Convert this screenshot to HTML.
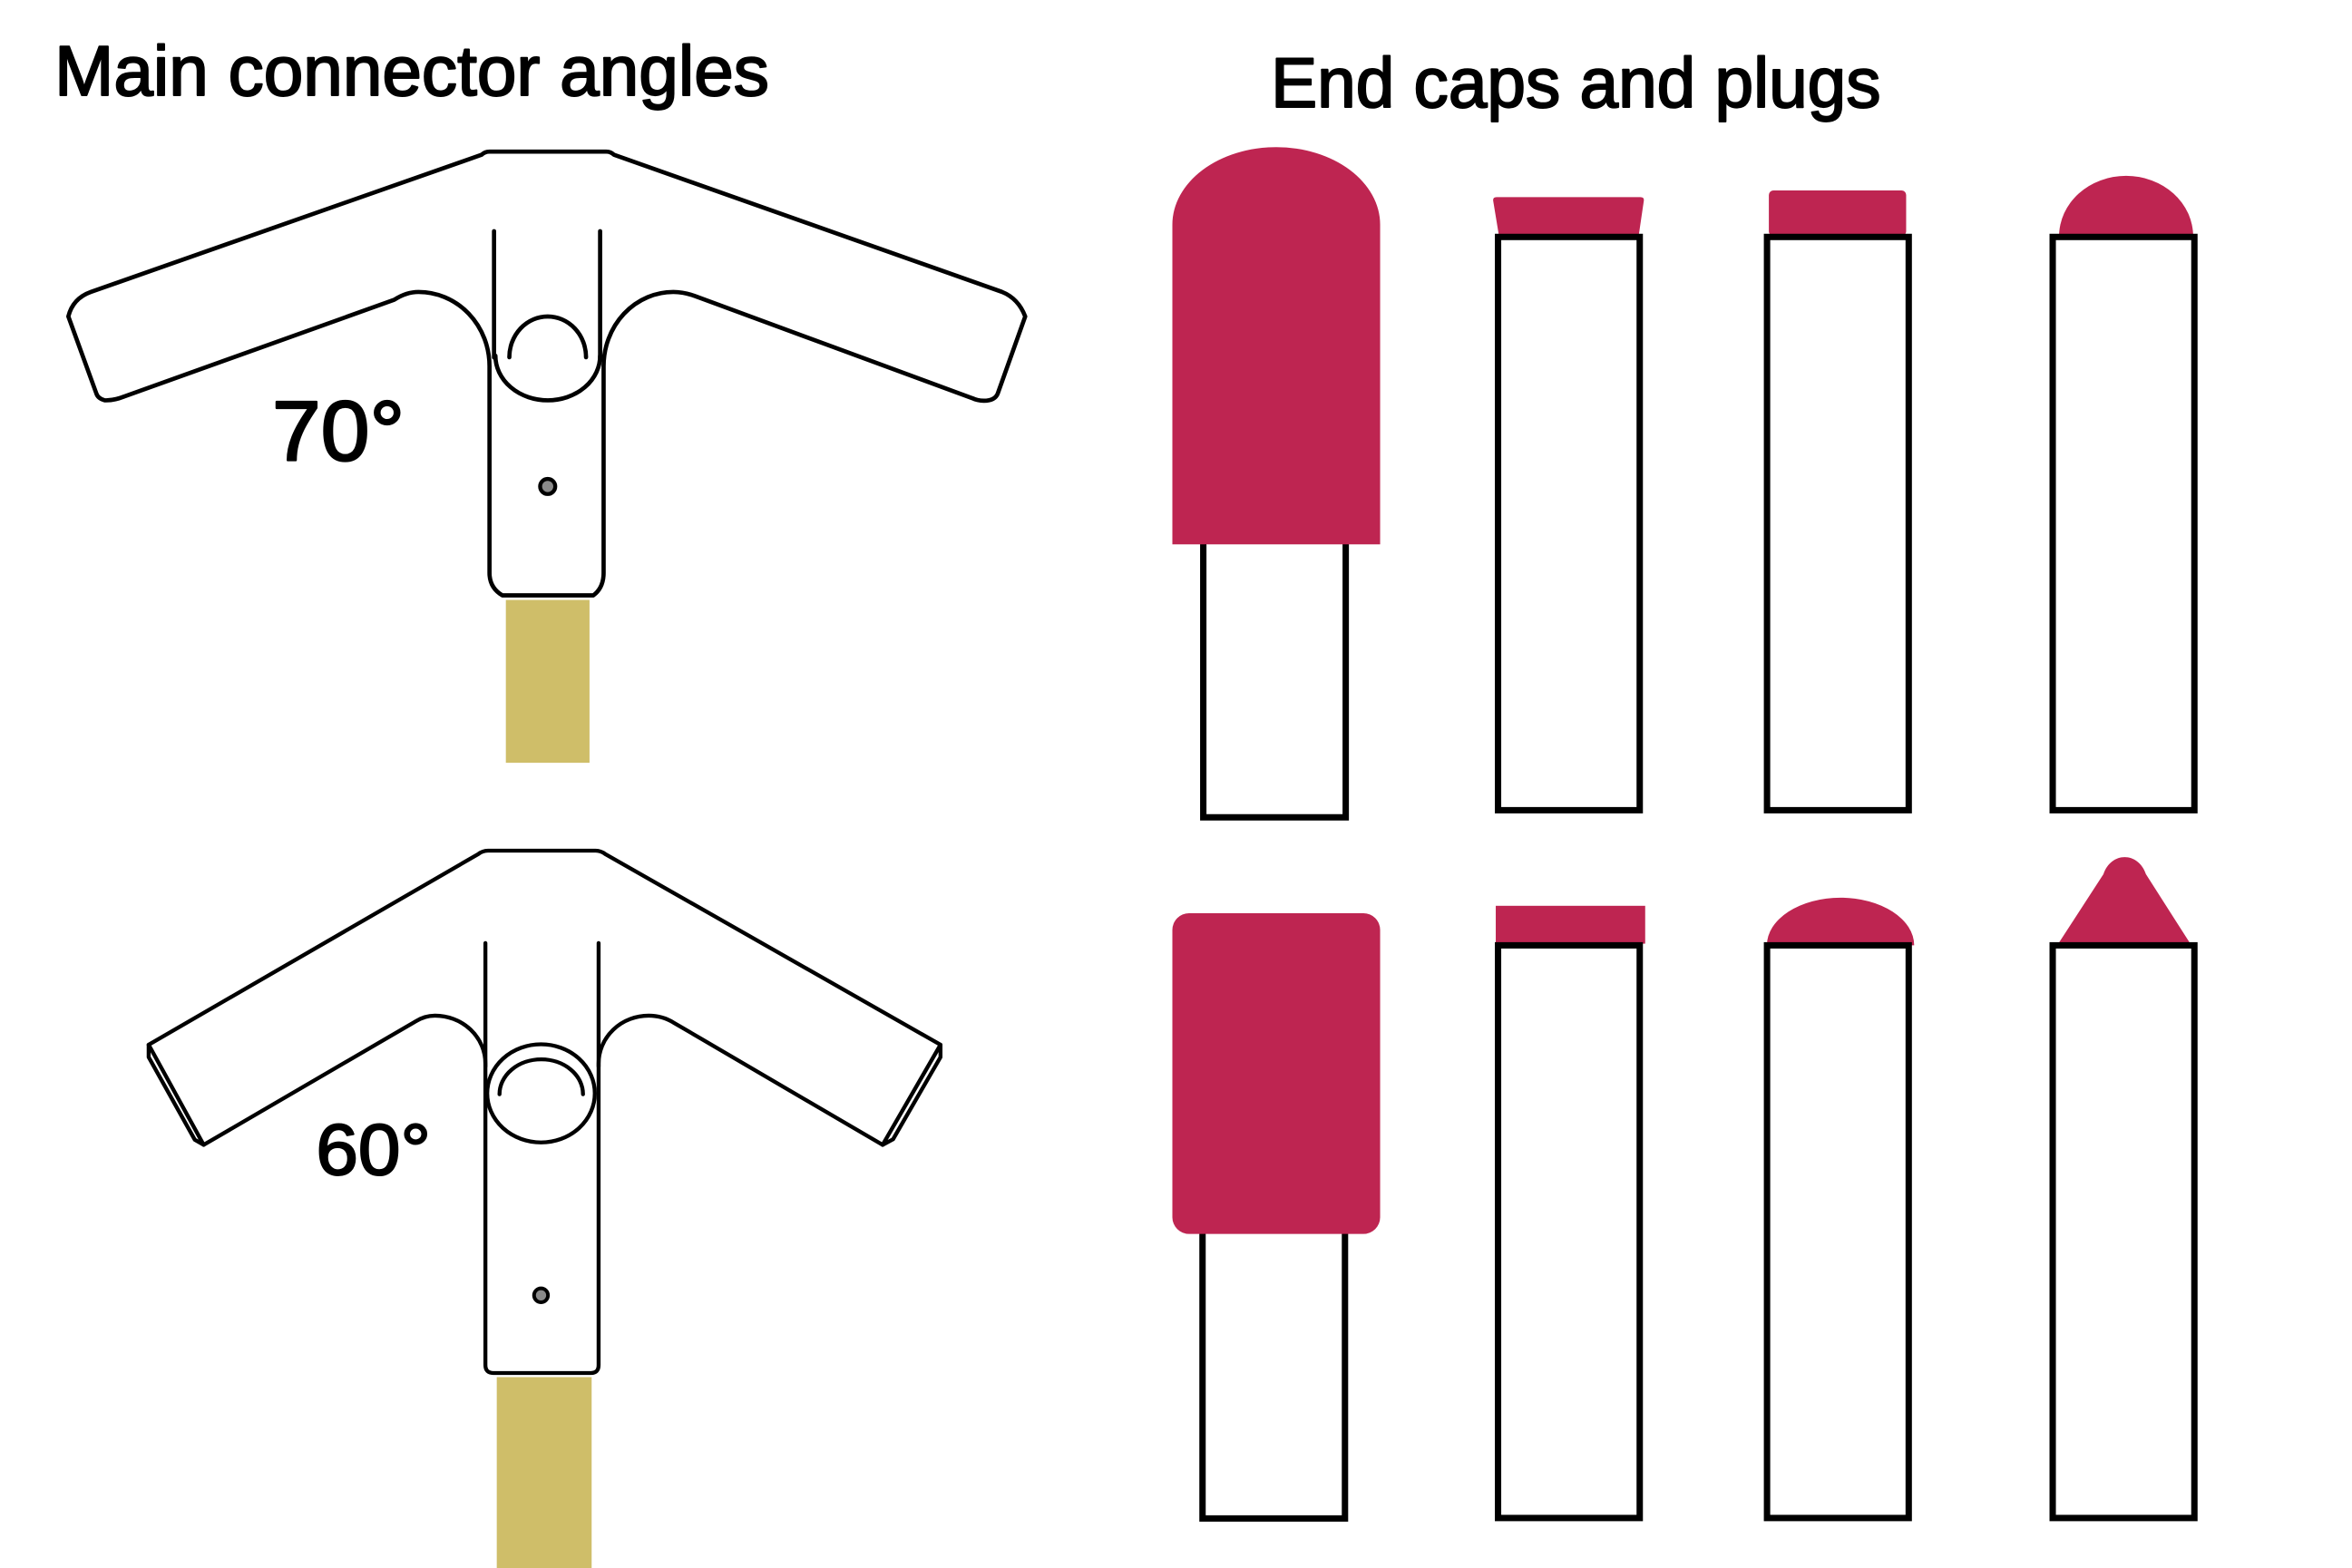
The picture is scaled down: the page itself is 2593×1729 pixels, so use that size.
<!DOCTYPE html>
<html>
<head>
<meta charset="utf-8">
<style>
  html, body { margin: 0; padding: 0; background: #ffffff; }
  body { width: 2593px; height: 1729px; overflow: hidden; }
  svg { display: block; }
  text { font-family: "Liberation Sans", "DejaVu Sans", sans-serif; font-weight: normal; fill: #000; stroke: #000; stroke-linejoin: round; }
</style>
</head>
<body>
<svg width="2593" height="1729" viewBox="0 0 1552 1035" preserveAspectRatio="none" xmlns="http://www.w3.org/2000/svg">
  <rect x="0" y="0" width="1552" height="1035" fill="#ffffff"/>

  <!-- Titles -->
  <text x="36" y="62.8" font-size="46.5" stroke-width="1.2" textLength="471.5" lengthAdjust="spacingAndGlyphs">Main connector angles</text>
  <text x="838.6" y="70.6" font-size="46.5" stroke-width="1.2" textLength="402.5" lengthAdjust="spacingAndGlyphs">End caps and plugs</text>

  <!-- ============ 70 degree connector ============ -->
  <rect x="333.8" y="396" width="55.2" height="107.5" fill="#CFBE69"/>
  <g fill="#ffffff" stroke="#000" stroke-width="2.8" stroke-linejoin="round" stroke-linecap="round">
    <path d="M317.7,102.2 Q320,100.1 323,100.1 L400,100.1 Q403,100.1 405.2,102.2
             L661,192.6 Q672,197 676.5,208.9
             L658.4,259.7 Q656.5,264.5 649.2,264.5 Q645,264.5 641.5,262.8
             L460.4,196.1 Q452,192.7 444.3,192.7
             A46 49 0 0 0 398.3,241.7
             L398.3,378.1 Q398.3,388 391.5,393 L331.5,393 Q323,388 323,378.1
             L323,241.7
             A46.8 49 0 0 0 276.2,192.7
             Q268,192.7 260.1,197.9
             L82,261.7 Q75,264.5 69,264.2 Q64.5,263 63.5,259.5
             L45.1,208.9 Q48,197 59.9,192.7 Z"/>
    <path d="M326.9,234.8 A34.5 29.4 0 0 0 396,234.8" fill="none"/>
    <path d="M336.1,235.8 A25.3 26.9 0 0 1 386.7,235.8" fill="none"/>
    <path d="M326,152.6 L326,236" fill="none"/>
    <path d="M396,152.6 L396,236" fill="none"/>
    <circle cx="361.4" cy="321.1" r="5" fill="#8a8a8a" stroke-width="2.6"/>
  </g>
  <text x="179.6" y="303.9" font-size="56" stroke-width="1.4" textLength="87.4" lengthAdjust="spacingAndGlyphs">70°</text>

  <!-- ============ 60 degree connector ============ -->
  <rect x="327.8" y="909" width="62.6" height="126" fill="#CFBE69"/>
  <g fill="#ffffff" stroke="#000" stroke-width="2.6" stroke-linejoin="round" stroke-linecap="round">
    <path d="M315.5,563.8 Q318.5,561.5 322,561.5 L393,561.5 Q396.5,561.5 399.5,563.8
             L620.6,689.6
             L582.4,755.7
             L444.3,674.9 Q437,670.4 428,670.4
             A33 31.6 0 0 0 395,702
             L395,901 Q395,906.3 390,906.3 L325.5,906.3 Q320.3,906.3 320.3,901
             L320.3,702
             A33.3 31.6 0 0 0 287,670.4
             Q280,670.4 273.9,674.4
             L134.4,755.7
             L98.1,689.6 Z"/>
    <path d="M98.1,689.6 L98.1,697.8 L128.5,752.3 L134.4,755.7" fill="none"/>
    <path d="M620.6,689.6 L620.6,697.8 L589.3,752 L582.4,755.7" fill="none"/>
    <path d="M320.3,622.5 L320.3,704" fill="none"/>
    <path d="M395,622.5 L395,704" fill="none"/>
    <ellipse cx="357" cy="721.7" rx="35.5" ry="32.4"/>
    <path d="M329.6,722.3 A27.5 23 0 0 1 384.7,722.3" fill="none"/>
    <circle cx="357" cy="855" r="4.6" fill="#8a8a8a" stroke-width="2.4"/>
  </g>
  <text x="208.5" y="775.1" font-size="47.5" stroke-width="1.2" textLength="75.8" lengthAdjust="spacingAndGlyphs">60°</text>

  <!-- ============ End caps row 1 ============ -->
  <g stroke="#000" stroke-width="4.2" fill="#ffffff">
    <rect x="794" y="330" width="94" height="209.5"/>
  </g>
  <g fill="#BE2551" stroke="none">
    <path d="M773.6,359.3 L773.6,148.3 A68.55 51.2 0 0 1 910.7,148.3 L910.7,359.3 Z"/>
    <path d="M989,155 L985.3,132.5 Q985,130.1 987.5,130.1 L1082.5,130.1 Q1085,130.1 1084.7,132.5 L1081.4,155 Z"/>
    <rect x="1167.2" y="125.7" width="90.6" height="30" rx="3" ry="3"/>
    <path d="M1358.7,156 A44.25 40 0 0 1 1447.2,156 Z"/>
  </g>
  <g stroke="#000" stroke-width="4.2" fill="#ffffff">
    <rect x="988.5" y="156.4" width="93.5" height="378.4"/>
    <rect x="1166" y="156.4" width="93.5" height="378.4"/>
    <rect x="1354.5" y="156.4" width="93.5" height="378.4"/>
  </g>

  <!-- ============ End caps row 2 ============ -->
  <g stroke="#000" stroke-width="4.2" fill="#ffffff">
    <rect x="793.5" y="760" width="94" height="242.3"/>
  </g>
  <g fill="#BE2551" stroke="none">
    <rect x="773.6" y="602.8" width="137.1" height="211.7" rx="11" ry="11"/>
    <rect x="987" y="597.9" width="98.6" height="25"/>
    <path d="M1165.9,624 A48.6 31.5 0 0 1 1263.1,624 Z"/>
    <path d="M1357.5,624 L1388,577 C1393,562 1411,562 1416,577 L1446,624 Z"/>
  </g>
  <g stroke="#000" stroke-width="4.2" fill="#ffffff">
    <rect x="988.5" y="624" width="93.5" height="378"/>
    <rect x="1166" y="624" width="93.5" height="378"/>
    <rect x="1354.5" y="624" width="93.5" height="378"/>
  </g>
</svg>
</body>
</html>
